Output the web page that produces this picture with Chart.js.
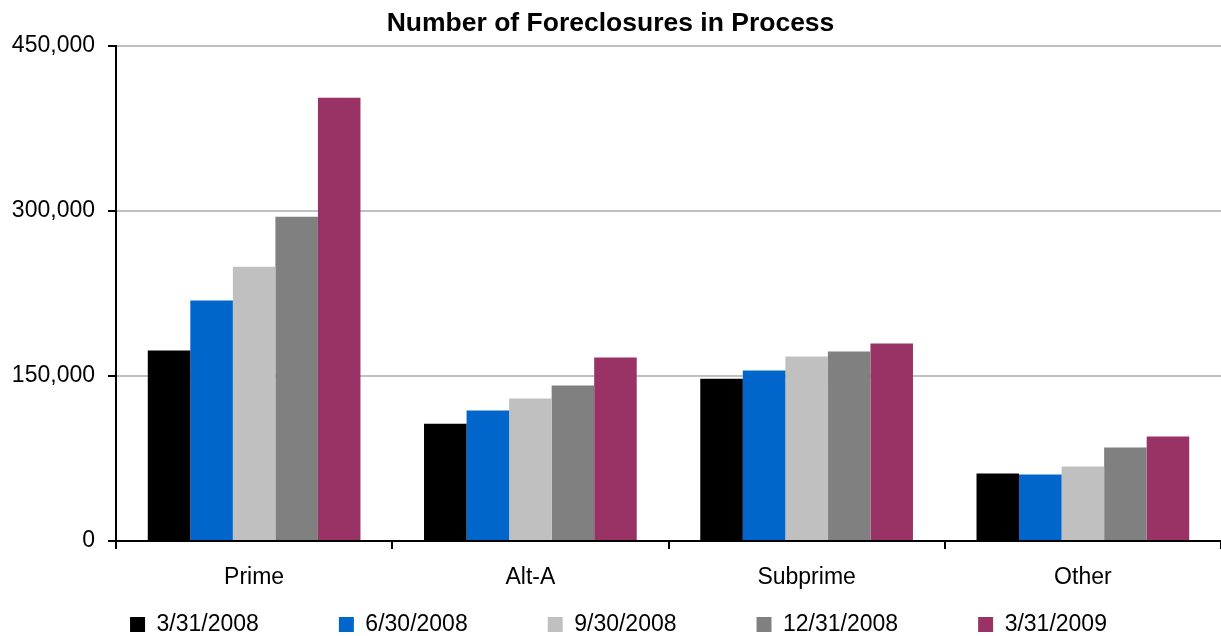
<!DOCTYPE html>
<html>
<head>
<meta charset="utf-8">
<script src="https://cdn.jsdelivr.net/npm/chart.js@4"></script>
<style>
  body { margin: 0; background: #fff; }
  canvas { display: block; }
</style>
</head>
<body>
<canvas id="foreclosureChart" width="1221" height="636"></canvas>
<script>
const categories = ['Prime', 'Alt-A', 'Subprime', 'Other'];
const seriesLabels = ['3/31/2008', '6/30/2008', '9/30/2008', '12/31/2008', '3/31/2009'];

// values (number of loans)
const q1_2008 = [173000, 106500, 147500, 61300];
const q2_2008 = [218500, 118500, 155000, 60400];
const q3_2008 = [249300, 129400, 167600, 67700];
const q4_2008 = [294700, 141200, 172100, 84900];
const q1_2009 = [402800, 166700, 179400, 94900];

const seriesColors = ['#000000', '#0066CC', '#C0C0C0', '#808080', '#993366'];
const yTicks = [0, 150000, 300000, 450000];

Chart.defaults.font.family = '"Liberation Sans", Arial, sans-serif';
Chart.defaults.color = '#000';

const legendGap = 80;

// keep the wide legend spacing without letting its padding eat vertical room
const legendPlacer = {
    id: 'legendPlacer',
    afterLayout(chart) {
        chart.legend.top = 613 - legendGap;
        chart.legend.left = 16; // nudges the row a little right
    }
};

const allValues = [q1_2008, q2_2008, q3_2008, q4_2008, q1_2009];

const ctx = document.getElementById('foreclosureChart').getContext('2d');
new Chart(ctx, {
    type: 'bar',
    data: {
        labels: categories,
        datasets: allValues.map((vals, i) => ({
            label: seriesLabels[i],
            data: vals,
            backgroundColor: seriesColors[i],
            borderWidth: 0,
            barPercentage: 1,
            categoryPercentage: 0.77,
        })),
    },
    options: {
        responsive: false,
        animation: false,
        devicePixelRatio: 1,
        layout: { padding: 0 },
        plugins: {
            title: {
                display: true,
                text: 'Number of Foreclosures in Process',
                font: { size: 26.5, weight: 'bold' },
                padding: { top: 8, bottom: 6 },
            },
            legend: {
                position: 'bottom',
                maxHeight: 40,
                labels: {
                    boxWidth: 15,
                    boxHeight: 15,
                    padding: legendGap,
                    font: { size: 23 },
                },
            },
            tooltip: { enabled: false },
        },
        scales: {
            x: {
                grid: {
                    offset: true,
                    drawOnChartArea: false,
                    tickLength: 8,
                    tickColor: '#000',
                    lineWidth: 2,
                },
                border: { color: '#000', width: 2 },
                ticks: { font: { size: 23 }, padding: 15 },
                afterFit(scale) { scale.height = 55; },
            },
            y: {
                min: 0,
                max: 450000,
                afterBuildTicks(scale) {
                    scale.ticks = yTicks.map(v => ({ value: v }));
                },
                grid: {
                    color: '#C0C0C0',
                    lineWidth: 2,
                    tickLength: 8,
                    tickColor: '#000',
                },
                border: { color: '#000', width: 2 },
                ticks: {
                    font: { size: 23 },
                    padding: 13,
                    callback: v => v.toLocaleString('en-US'),
                },
                afterFit(scale) { scale.width = 116; },
            },
        },
    },
    plugins: [legendPlacer],
});
</script>
</body>
</html>
